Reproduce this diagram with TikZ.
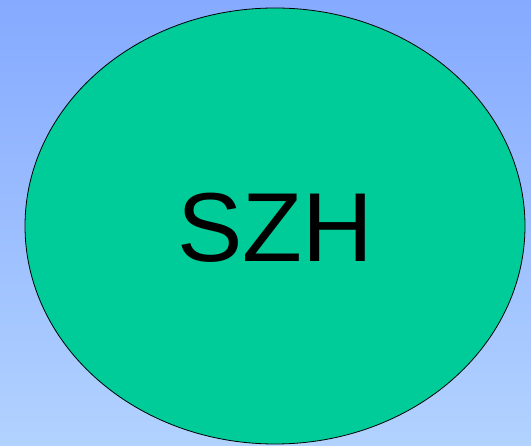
\documentclass[tikz,border=0pt]{standalone}
\usepackage{fontspec}
\setsansfont{Liberation Sans}
\usetikzlibrary{shapes.geometric, positioning}

\definecolor{skytop}{HTML}{85AAFF}
\definecolor{skybottom}{HTML}{B2D2FF}
\definecolor{blobgreen}{HTML}{00CC99}

\begin{document}
\begin{tikzpicture}[
    x=1pt, y=1pt,
    blob/.style={ellipse, draw=black, fill=blobgreen, line width=0.8pt,
        minimum width=500pt, minimum height=436pt, inner sep=0pt},
    big label/.style={font=\sffamily\fontsize{98}{98}\selectfont, text=black}
]

% Background
\fill[top color=skytop, bottom color=skybottom] (0,0) rectangle (531,446);
\useasboundingbox (0,0) rectangle (531,446);

% Ellipse with label
\node[blob] (szh) at (275,220) {};
\node[big label] (szhtext) at (275,218) {SZH};

\end{tikzpicture}
\end{document}
